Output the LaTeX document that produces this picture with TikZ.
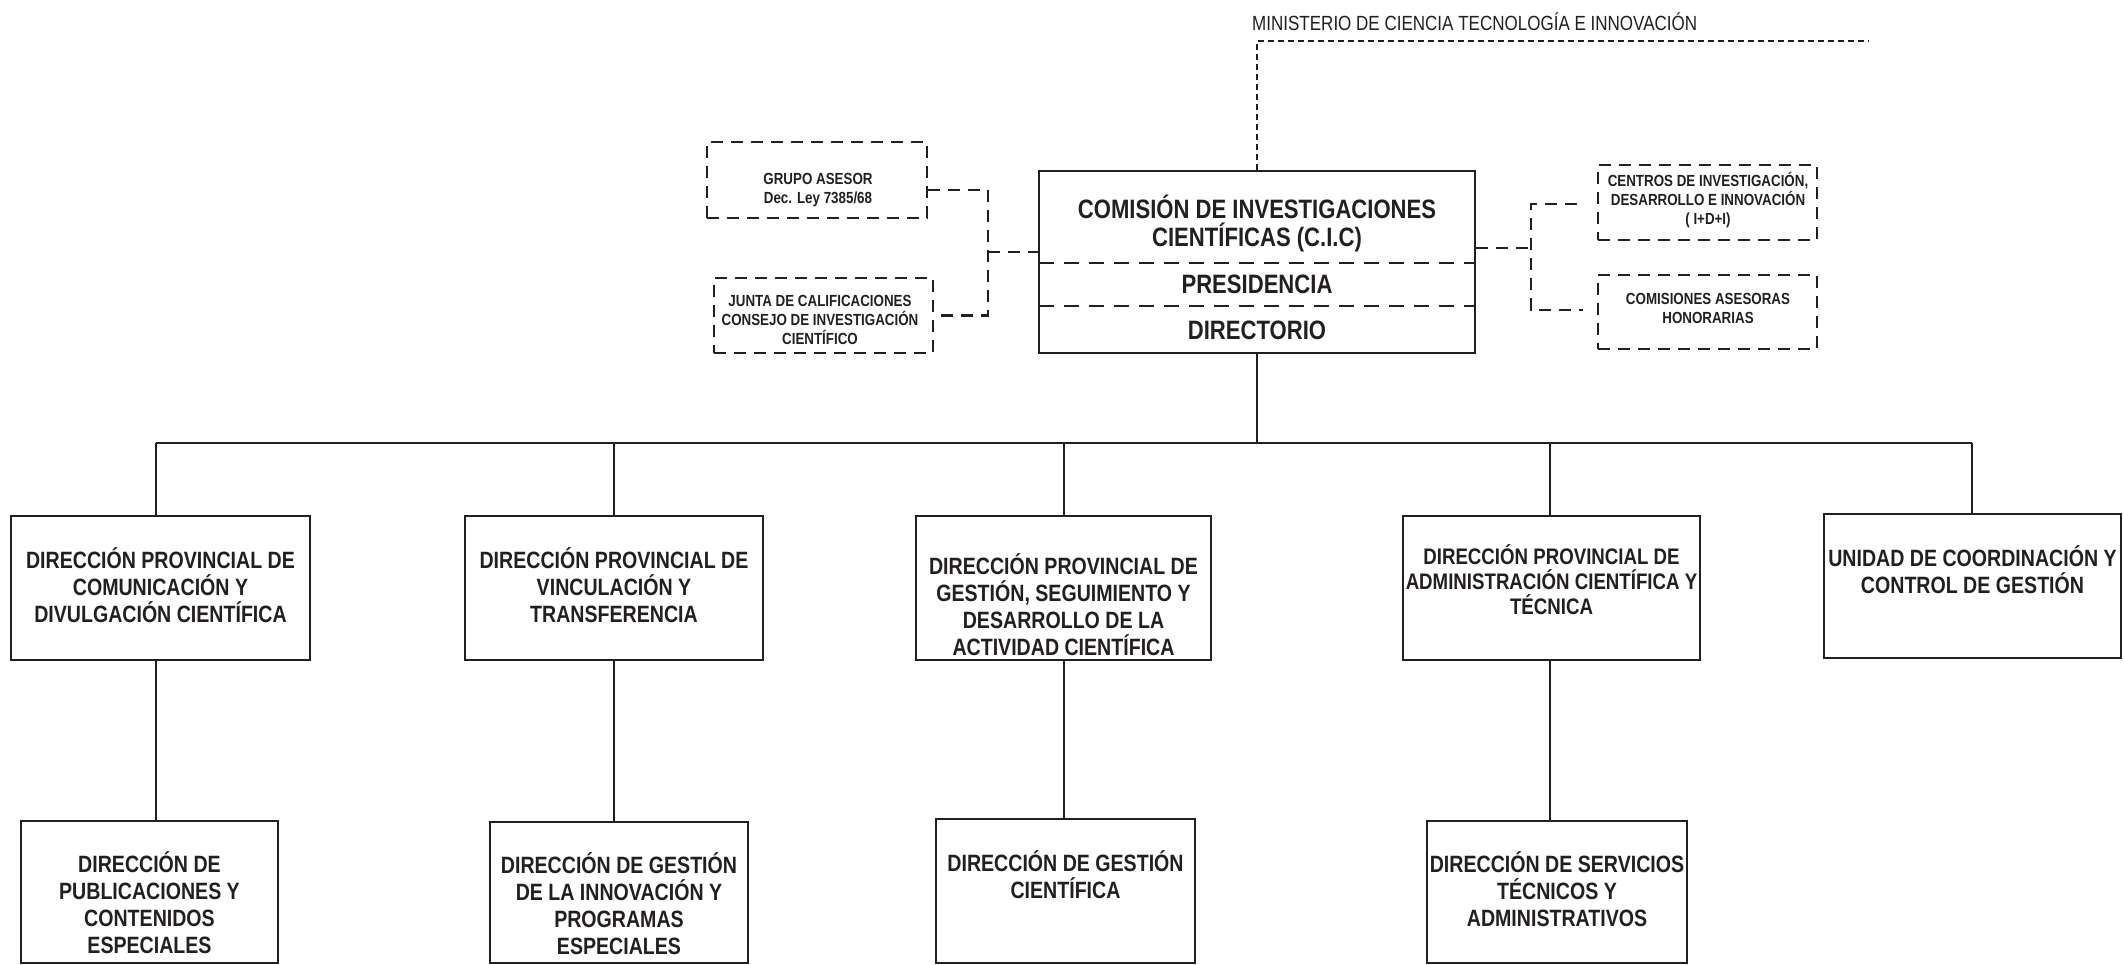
\documentclass[tikz,border=0pt]{standalone}
\usepackage{fontspec}
\setmainfont{Liberation Sans}[FakeStretch=0.83]
\usetikzlibrary{calc}
\definecolor{ink}{RGB}{35,31,32}
\begin{document}
\begin{tikzpicture}[x=1pt,y=-1pt,
  boxsolid/.style={draw=ink, line width=2.8pt, rectangle, inner sep=0pt},
  boxdash/.style={draw=ink, line width=2.6pt, dash pattern=on 12pt off 8pt, rectangle, inner sep=0pt},
  conn/.style={draw=ink, line width=1.3pt},
  dconn/.style={draw=ink, line width=2.6pt, dash pattern=on 12pt off 8pt},
  mdash/.style={draw=ink, line width=1.2pt, dash pattern=on 6pt off 4pt},
  divdash/.style={draw=ink, line width=2.6pt, dash pattern=on 15pt off 10pt},
  bigtxt/.style={text=ink, align=center, inner sep=0pt, font=\bfseries\fontsize{26.6}{28}\selectfont},
  midtxt/.style={text=ink, align=center, inner sep=0pt, font=\bfseries\fontsize{23.6}{27}\selectfont},
  midtxtb/.style={text=ink, align=center, inner sep=0pt, font=\bfseries\fontsize{22.5}{25}\selectfont},
  smalltxt/.style={text=ink, align=center, inner sep=0pt, font=\bfseries\fontsize{16.1}{19}\selectfont},
  mintxt/.style={text=ink, inner sep=0pt, font=\fontsize{20.5}{22}\selectfont},
]
\useasboundingbox (0,0) rectangle (2123,965);

% Ministry
\node[mintxt, anchor=west] (min) at (1252,22) {MINISTERIO DE CIENCIA TECNOLOGÍA E INNOVACIÓN};

% CIC box
\node[boxsolid, minimum width=436pt, minimum height=182pt] (cic) at (1257,262) {};
\node[bigtxt] (cict) at (1257,223) {COMISIÓN DE INVESTIGACIONES\\CIENTÍFICAS (C.I.C)};
\node[bigtxt] (pres) at (1257,284) {PRESIDENCIA};
\node[bigtxt] (dirt) at (1257,330) {DIRECTORIO};
\draw[divdash] (1039,263) -- (1475,263);
\draw[divdash] (1039,306) -- (1475,306);

\coordinate (mtop) at (1257,41);
\coordinate (mend) at (1869,41);
\draw[mdash] (cic.north) -- (mtop) -- (mend);

% advisory boxes left
\node[boxdash, minimum width=220pt, minimum height=76pt] (grupo) at (817,180) {};
\node[smalltxt] (grupot) at (818,190) {GRUPO ASESOR\\Dec. Ley 7385/68};
\node[boxdash, minimum width=219pt, minimum height=75pt] (junta) at (823.5,315.5) {};
\node[smalltxt] (juntat) at (820,320) {JUNTA DE CALIFICACIONES\\CONSEJO DE INVESTIGACIÓN\\CIENTÍFICO};

\coordinate (lj) at (988,252);
\draw[dconn] ([yshift=-10pt]grupo.east) -| (lj) |- (junta.east);
\draw[dconn] (lj) -- (cic.west |- lj);

% advisory boxes right
\node[boxdash, minimum width=219pt, minimum height=75pt] (centros) at (1707.5,202.5) {};
\node[smalltxt] (centrost) at (1708,200) {CENTROS DE INVESTIGACIÓN,\\DESARROLLO E INNOVACIÓN\\( I+D+I)};
\node[boxdash, minimum width=219pt, minimum height=74pt] (comis) at (1707.5,312) {};
\node[smalltxt] (comist) at (1708,308.5) {COMISIONES ASESORAS\\HONORARIAS};

\coordinate (rj) at (1531,248);
\coordinate (rjt) at (1531,204);
\coordinate (rjb) at (1531,310);
\draw[dconn] (cic.east |- rj) -- (rj);
\draw[dconn] ([xshift=-20pt]centros.west |- rjt) -- (rjt) -- (rjb) -- ([xshift=-14pt]comis.west |- rjb);

% level 2
\node[boxsolid, minimum width=299pt, minimum height=144pt] (b1) at (160.5,588) {};
\node[boxsolid, minimum width=298pt, minimum height=144pt] (b2) at (614,588) {};
\node[boxsolid, minimum width=295pt, minimum height=144pt] (b3) at (1063.5,588) {};
\node[boxsolid, minimum width=297pt, minimum height=144pt] (b4) at (1551.5,588) {};
\node[boxsolid, minimum width=297pt, minimum height=144pt] (b5) at (1972.5,586) {};
\node[midtxt] (b1t) at (160.5,585) {DIRECCIÓN PROVINCIAL DE\\COMUNICACIÓN Y\\DIVULGACIÓN CIENTÍFICA};
\node[midtxt] (b2t) at (614,585) {DIRECCIÓN PROVINCIAL DE\\VINCULACIÓN Y\\TRANSFERENCIA};
\node[midtxt] (b3t) at (1063.5,604.5) {DIRECCIÓN PROVINCIAL DE\\GESTIÓN, SEGUIMIENTO Y\\DESARROLLO DE LA\\ACTIVIDAD CIENTÍFICA};
\node[midtxtb] (b4t) at (1551.5,580) {DIRECCIÓN PROVINCIAL DE\\ADMINISTRACIÓN CIENTÍFICA Y\\TÉCNICA};
\node[midtxt] (b5t) at (1972.5,570) {UNIDAD DE COORDINACIÓN Y\\CONTROL DE GESTIÓN};

% level 3
\node[boxsolid, minimum width=257pt, minimum height=142pt] (c1) at (149.5,892) {};
\node[boxsolid, minimum width=258pt, minimum height=141pt] (c2) at (619,892.5) {};
\node[boxsolid, minimum width=259pt, minimum height=144pt] (c3) at (1065.5,891) {};
\node[boxsolid, minimum width=260pt, minimum height=142pt] (c4) at (1557,892) {};
\node[midtxt] (c1t) at (149.5,903) {DIRECCIÓN DE\\PUBLICACIONES Y\\CONTENIDOS\\ESPECIALES};
\node[midtxt] (c2t) at (619,904) {DIRECCIÓN DE GESTIÓN\\DE LA INNOVACIÓN Y\\PROGRAMAS\\ESPECIALES};
\node[midtxt] (c3t) at (1065.5,874.5) {DIRECCIÓN DE GESTIÓN\\CIENTÍFICA};
\node[midtxt] (c4t) at (1557,889) {DIRECCIÓN DE SERVICIOS\\TÉCNICOS Y\\ADMINISTRATIVOS};

% tree connectors
\coordinate (x1) at (156,443);
\coordinate (x2) at (614,443);
\coordinate (x3) at (1064,443);
\coordinate (x4) at (1550,443);
\coordinate (x5) at (1972,443);
\draw[conn] (cic.south) -- (cic.south |- x1);
\draw[conn] (x1) -- (x5);
\draw[conn] (x1) -- (x1 |- b1.north);
\draw[conn] (x2) -- (x2 |- b2.north);
\draw[conn] (x3) -- (x3 |- b3.north);
\draw[conn] (x4) -- (x4 |- b4.north);
\draw[conn] (x5) -- (x5 |- b5.north);
\draw[conn] (x1 |- b1.south) -- (x1 |- c1.north);
\draw[conn] (x2 |- b2.south) -- (x2 |- c2.north);
\draw[conn] (x3 |- b3.south) -- (x3 |- c3.north);
\draw[conn] (x4 |- b4.south) -- (x4 |- c4.north);
\end{tikzpicture}
\end{document}
